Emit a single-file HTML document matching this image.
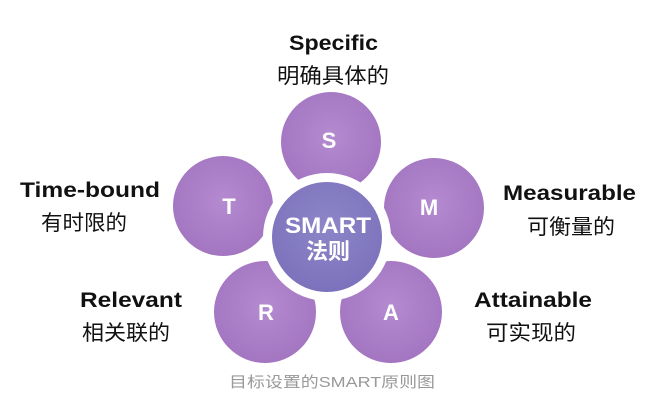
<!DOCTYPE html>
<html><head><meta charset="utf-8"><style>
html,body{margin:0;padding:0;background:#fff;}
body{width:661px;height:417px;position:relative;overflow:hidden;}
svg{position:absolute;left:0;top:0;}
</style></head><body>
<svg width="661" height="417" viewBox="0 0 661 417" xmlns="http://www.w3.org/2000/svg">
<defs>
<radialGradient id="pg" cx="50%" cy="45%" r="60%">
<stop offset="0" stop-color="#b48ad0"/><stop offset="1" stop-color="#a274c0"/>
</radialGradient>
<radialGradient id="cg" cx="50%" cy="40%" r="60%">
<stop offset="0" stop-color="#8d86c8"/><stop offset="1" stop-color="#7c72bc"/>
</radialGradient>
</defs>
<g fill="url(#pg)">
<circle cx="331" cy="142" r="50"/>
<circle cx="434" cy="208" r="50"/>
<circle cx="223" cy="206" r="50"/>
<circle cx="265" cy="312" r="51"/>
<circle cx="391" cy="312" r="51"/>
</g>
<circle cx="327" cy="237" r="64" fill="#fff"/>
<circle cx="327" cy="237" r="55" fill="url(#cg)"/>
<g font-family="Liberation Sans, sans-serif" font-weight="bold" fill="#fff" text-anchor="middle" font-size="22">
<text x="329" y="148">S</text>
<text x="429" y="215">M</text>
<text x="229" y="214">T</text>
<text x="266" y="320">R</text>
<text x="391" y="320">A</text>
<text x="328" y="233" font-size="22" textLength="86" lengthAdjust="spacingAndGlyphs">SMART</text>
<text x="328" y="259" font-size="22" font-family="Liberation Sans, Noto Sans CJK SC, sans-serif">法则</text>
</g>
<g font-family="Liberation Sans, Noto Sans CJK SC, sans-serif" fill="#111">
<g font-weight="bold" font-size="21">
<text x="289" y="50" textLength="89" lengthAdjust="spacingAndGlyphs">Specific</text>
<text x="20" y="197" textLength="140" lengthAdjust="spacingAndGlyphs">Time-bound</text>
<text x="503" y="200" textLength="133" lengthAdjust="spacingAndGlyphs">Measurable</text>
<text x="80" y="307" textLength="102" lengthAdjust="spacingAndGlyphs">Relevant</text>
<text x="474" y="307" textLength="118" lengthAdjust="spacingAndGlyphs">Attainable</text>
</g>
<g font-size="21">
<text x="277" y="83" textLength="112" lengthAdjust="spacingAndGlyphs">明确具体的</text>
<text x="41" y="230" textLength="86" lengthAdjust="spacingAndGlyphs">有时限的</text>
<text x="527" y="234" textLength="88" lengthAdjust="spacingAndGlyphs">可衡量的</text>
<text x="82" y="340" textLength="88" lengthAdjust="spacingAndGlyphs">相关联的</text>
<text x="486" y="340" textLength="90" lengthAdjust="spacingAndGlyphs">可实现的</text>
</g>
<text x="229" y="387" font-size="15" fill="#999" textLength="206" lengthAdjust="spacingAndGlyphs">目标设置的SMART原则图</text>
</g>
</svg>
</body></html>
